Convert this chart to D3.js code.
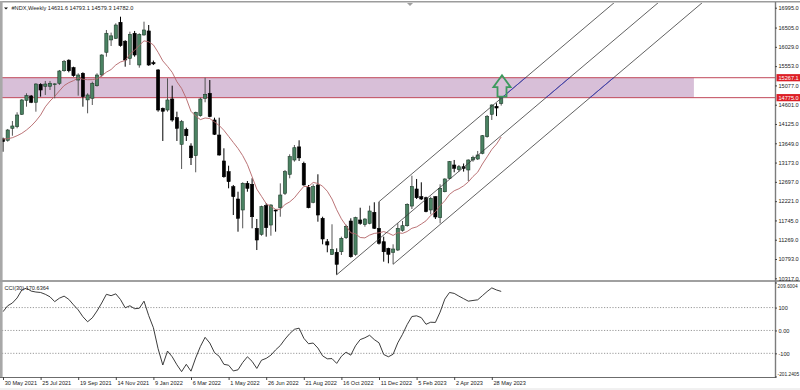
<!DOCTYPE html>
<html>
<head>
<meta charset="utf-8">
<script src="https://cdn.jsdelivr.net/npm/d3@7"></script>
<style>
	body { margin: 0; background: #fff; }
	svg { display: block; font-family: "Liberation Sans", Arial, sans-serif; }
</style>
</head>
<body>
<div id="chart-area"></div>
<script>
// weekly bars, 30 May 2021 .. 11 Jun 2023
var opens = [13760,13723,14019,14059,14365,14710,14816,14661,15105,15056,
	15056,15110,15130,15440,15700,15515,15210,15376,14720,14760,
	15070,15334,15895,16200,16240,16635,16168,15746,16364,15581,
	16322,16421,15640,15458,14513,14471,14742,14281,13624,13994,
	13582,13343,14330,14760,14883,14224,13853,13212,12948,12578,
	12274,12003,12662,12637,11551,11403,12109,11632,12000,12059,
	12415,12884,13236,13560,13155,12560,12193,12620,11798,11220,
	10909,10959,10973,11319,11731,10909,11756,11640,11674,11946,
	11551,11220,11057,10959,11015,11500,11615,12100,12521,12331,
	12306,12003,12331,11813,12454,12785,13113,13000,13071,12990,
	13237,13261,13402,13812,14365,14560,14631.6];
var highs = [13790,14002,14199,14414,14742,14883,14841,15130,15130,15187,
	15187,15130,15458,15705,15720,15539,15376,15401,14883,15170,
	15376,15845,16445,16380,16610,16773,16193,16403,16421,16364,
	16650,16568,15690,15480,14530,15253,15071,14429,14224,14034,
	13649,14429,14774,15268,15210,14281,14281,13525,13096,12620,
	12454,12686,12718,12785,11781,12109,12168,12143,12020,12660,
	12990,13377,13607,13723,13195,12620,12637,12884,11837,11287,
	11650,11057,11344,11640,11798,11837,12059,11800,12109,12193,
	12208,11344,11072,11156,11674,11731,12168,12849,12768,12686,
	12331,12331,12340,12637,12785,13212,13237,13113,13150,13250,
	13343,13459,13853,14347,14611,14636,14793.1];
var lows = [13440,13688,13836,14019,14347,14552,14640,14429,14799,14841,
	14964,14760,15088,15416,15400,15292,14824,14552,14389,14594,
	15046,15292,15786,16050,16223,16033,15539,15581,15786,15515,
	16305,15560,15580,14429,13706,14429,14182,13706,13015,13706,
	13113,12933,14306,14661,14290,13853,13343,12800,12538,11879,
	11467,11551,12454,11551,11015,11368,11344,11368,11467,11837,
	12373,12785,13195,13212,12603,12045,12168,11714,11156,10959,
	10892,10405,10892,11287,10825,10875,11640,11590,11650,11534,
	11150,10727,10687,10663,10990,11467,11590,12027,12274,12249,
	11946,11896,11781,11674,12439,12768,12933,12948,12950,12718,
	13195,13237,13377,13787,14224,14320,14579.3];
var closes = [13690,13977,14076,14347,14718,14824,14661,15112,14964,15112,
	15130,15115,15433,15663,15440,15317,15334,14799,14841,15130,
	15334,15828,16364,16300,16568,16058,15705,16339,15828,16339,
	16445,15581,15610,14471,14440,14718,14224,14019,14182,13836,
	13293,14414,14742,14858,14306,13871,13360,12824,12701,12331,
	11798,12662,12538,11837,11262,12084,11566,12126,11978,12373,
	12948,13318,13540,13290,12620,12059,12578,11879,11287,11139,
	11033,10663,11304,11600,10850,11813,11674,11780,11978,11551,
	11181,10973,10909,11040,11551,11615,12143,12578,12306,12274,
	11961,12291,11830,12538,12768,13195,13032,13071,13030,13237,
	13300,13360,13836,14306,14594,14520,14782.0];

// moving average line
var ma10 = [13755,13762,13787,13836,13895,13977,14076,14199,14347,14548,
	14692,14806,14942,15073,15145,15195,15262,15231,15218,15220,
	15241,15312,15405,15469,15582,15656,15693,15847,15945,16066,
	16177,16153,16077,15894,15682,15548,15400,15168,15003,14753,
	14437,14321,14234,14273,14259,14175,14088,13969,13821,13670,
	13521,13345,13125,12823,12518,12340,12160,12091,12018,12022,
	12137,12203,12303,12449,12584,12582,12683,12658,12589,12466,
	12274,12009,11785,11616,11439,11415,11324,11314,11383,11425,
	11439,11470,11431,11375,11445,11425,11472,11552,11585,11657,
	11735,11867,11959,12109,12230,12388,12477,12527,12599,12695,
	12829,12936,13137,13314,13496,13629,13804];

// CCI(30)
var cci = [82,108,120,142,177,185,172,168,166,158,
	147,126,141,150,136,112,90,60,38,55,
	85,120,158,152,160,135,99,108,95,97,
	128,65,12,-80,-151,-90,-115,-150,-180,-148,
	-178,-120,-70,-30,-55,-97,-113,-148,-152,-177,
	-172,-140,-115,-135,-166,-130,-122,-108,-85,-66,
	-38,-14,5,10,-34,-58,-55,-77,-111,-124,
	-123,-144,-113,-95,-108,-67,-40,-32,-21,-40,
	-54,-105,-115,-104,-54,-17,26,61,64,56,
	27,36,35,80,137,166,162,150,139,128,
	131,134,152,170,186,177,170.6364];

var dateIdx = [0,8,16,24,32,40,48,56,64,72,80,88,96,104];
var dateLabels = ["30 May 2021","25 Jul 2021","19 Sep 2021","14 Nov 2021","9 Jan 2022","6 Mar 2022",
	"1 May 2022","26 Jun 2022","21 Aug 2022","16 Oct 2022","11 Dec 2022","5 Feb 2023","2 Apr 2023","28 May 2023"];
var priceTicks = [16995,16505,16029,15553,15077,14601,14125,13649,13173,12697,12221,11745,11269,10793,10317];
var cciTicks = [209.6004,100,0,-100,-201.2405];
var cciLevels = [100,0,-100];

var zoneTop = 15267.1, zoneBottom = 14775.0, zoneEndBar = 147;
var forkPoints = [[71,10405],[80,12208],[83,10663]];
var arrowBar = 106;

var W = 800, H = 390;
var left = 2, right = 775;
var mainTop = 3, mainBottom = 280, cciTop = 282, cciBottom = 377;
var fs = "5.6px";

var svg = d3.select("#chart-area")
	.append("svg")
		.attr("width", W)
		.attr("height", H);

var x = d3.scaleLinear().domain([0, closes.length - 1]).range([3, 501.2]);
var y = d3.scaleLinear().domain([10317, 16995]).range([278.3, 7.7]);
var yc = d3.scaleLinear().domain([-201.2405, 209.6004]).range([376.5, 282.5]);

var defs = svg.append("defs");
defs.append("clipPath").attr("id", "mainClip")
	.append("rect").attr("x", left).attr("y", mainTop).attr("width", right - left).attr("height", mainBottom - mainTop);
defs.append("clipPath").attr("id", "cciClip")
	.append("rect").attr("x", left).attr("y", cciTop).attr("width", right - left).attr("height", cciBottom - cciTop);
defs.append("clipPath").attr("id", "zoneClip")
	.append("rect").attr("x", left).attr("y", y(zoneTop)).attr("width", x(zoneEndBar) - left).attr("height", y(zoneBottom) - y(zoneTop));

var g = svg.append("g").attr("clip-path", "url(#mainClip)");

// resistance zone
g.append("rect")
	.attr("x", left)
	.attr("y", y(zoneTop))
	.attr("width", x(zoneEndBar) - left)
	.attr("height", y(zoneBottom) - y(zoneTop))
	.attr("fill", "#d8bfd8");
g.selectAll(".zline").data([zoneTop, zoneBottom]).enter()
	.append("line")
		.attr("x1", left).attr("x2", right)
		.attr("y1", (d) => y(d)).attr("y2", (d) => y(d))
		.attr("stroke", "#c0485a")
		.attr("stroke-width", 1);

// candles
var bars = d3.range(closes.length);
g.selectAll(".wick").data(bars).enter()
	.append("line")
		.attr("x1", (i) => x(i)).attr("x2", (i) => x(i))
		.attr("y1", (i) => y(highs[i])).attr("y2", (i) => y(lows[i]))
		.attr("stroke", (i) => closes[i] >= opens[i] ? "#555" : "#000")
		.attr("stroke-width", 1);
g.selectAll(".body").data(bars).enter()
	.append("rect")
		.attr("x", (i) => x(i) - 1.6)
		.attr("y", (i) => y(Math.max(opens[i], closes[i])))
		.attr("width", 3.2)
		.attr("height", (i) => Math.max(0.8, Math.abs(y(opens[i]) - y(closes[i]))))
		.attr("fill", (i) => closes[i] >= opens[i] ? "#4a8262" : "#000")
		.attr("stroke", (i) => closes[i] >= opens[i] ? "#1d3b2a" : "#000")
		.attr("stroke-width", 0.6);

// moving average
g.append("path")
	.datum(ma10)
	.attr("fill", "none")
	.attr("stroke", "#b36468")
	.attr("stroke-width", 0.9)
	.attr("d", d3.line().x((d, i) => x(i)).y((d) => y(d)));

// pitchfork
var p1 = forkPoints[0], p2 = forkPoints[1], p3 = forkPoints[2];
var mid = [(p2[0] + p3[0]) / 2, (p2[1] + p3[1]) / 2];
var slope = (mid[1] - p1[1]) / (mid[0] - p1[0]);
var forkLines = forkPoints.map((p) => [p, [p[0] + 200, p[1] + 200 * slope]]);
g.selectAll(".fork").data(forkLines).enter()
	.append("line")
		.attr("x1", (d) => x(d[0][0])).attr("y1", (d) => y(d[0][1]))
		.attr("x2", (d) => x(d[1][0])).attr("y2", (d) => y(d[1][1]))
		.attr("stroke", "#3a3a3a")
		.attr("stroke-width", 0.8);
svg.append("g").attr("clip-path", "url(#zoneClip)")
	.selectAll(".forkb").data(forkLines).enter()
	.append("line")
		.attr("x1", (d) => x(d[0][0])).attr("y1", (d) => y(d[0][1]))
		.attr("x2", (d) => x(d[1][0])).attr("y2", (d) => y(d[1][1]))
		.attr("stroke", "#3b3bd0")
		.attr("stroke-width", 0.8);

// up arrow above last bar
var ax = x(arrowBar) + 0.8, ay = y(highs[arrowBar]) - 0.3;
svg.append("path")
	.attr("d", "M" + (ax - 4.5) + "," + ay + "V" + (ay - 9.4) + "H" + (ax - 8.6) + "L" + ax + "," + (ay - 21.4) +
		"L" + (ax + 8.6) + "," + (ay - 9.4) + "H" + (ax + 4.5) + "V" + ay + "Z")
	.attr("fill", "none")
	.attr("stroke", "#3d9a5e")
	.attr("stroke-width", 1.8)
	.attr("stroke-linejoin", "miter");

// CCI panel
var gc = svg.append("g").attr("clip-path", "url(#cciClip)");
gc.selectAll(".lvl").data(cciLevels).enter()
	.append("line")
		.attr("x1", left).attr("x2", right)
		.attr("y1", (d) => yc(d)).attr("y2", (d) => yc(d))
		.attr("stroke", "#808080")
		.attr("stroke-width", 0.8)
		.attr("stroke-dasharray", "1.2,1.6");
gc.append("path")
	.datum(cci)
	.attr("fill", "none")
	.attr("stroke", "#262626")
	.attr("stroke-width", 0.9)
	.attr("d", d3.line().x((d, i) => x(i)).y((d) => yc(d)));

// frames
svg.append("line").attr("x1", 0).attr("x2", W).attr("y1", 1.8).attr("y2", 1.8)
	.attr("stroke", "#9c9c9c").attr("stroke-width", 1.6);
svg.append("line").attr("x1", 1.3).attr("x2", 1.3).attr("y1", 1).attr("y2", cciBottom)
	.attr("stroke", "#a8a8a8").attr("stroke-width", 2.6);
svg.append("line").attr("x1", 0).attr("x2", W).attr("y1", 281).attr("y2", 281)
	.attr("stroke", "#a0a0a0").attr("stroke-width", 2);
svg.append("line").attr("x1", right + 0.5).attr("x2", right + 0.5).attr("y1", 2).attr("y2", cciBottom)
	.attr("stroke", "#7c7c7c").attr("stroke-width", 1.4);
svg.append("line").attr("x1", 0).attr("x2", right + 1).attr("y1", cciBottom + 0.5).attr("y2", cciBottom + 0.5)
	.attr("stroke", "#6c6c6c").attr("stroke-width", 1);
svg.append("line").attr("x1", 0).attr("x2", W).attr("y1", 389).attr("y2", 389)
	.attr("stroke", "#e2e2e2").attr("stroke-width", 1);
// chart shift marker
svg.append("path").attr("d", "M407,3L413,3L410,6Z").attr("fill", "#a0a0a0");

// price axis
var rightAxis = d3.axisRight(y).tickValues(priceTicks).tickSize(2).tickFormat((d) => d.toFixed(1));
var ra = svg.append("g")
	.attr("class", "right axis")
	.attr("transform", "translate(" + right + ",0)")
	.call(rightAxis);
ra.select(".domain").remove();
ra.selectAll("line").attr("stroke", "#444");
ra.selectAll("text").attr("x", 3.5).attr("font-size", fs).attr("fill", "#222").style("font-family", "Liberation Sans, Arial, sans-serif");

// zone price tags
var tags = svg.selectAll(".tag").data([zoneTop, zoneBottom]).enter().append("g");
tags.append("rect")
	.attr("x", right + 1.5).attr("y", (d) => y(d) - 3.6)
	.attr("width", W - right).attr("height", 7.2)
	.attr("fill", "#dc1f26");
tags.append("text")
	.attr("x", right + 3.5).attr("y", (d) => y(d))
	.attr("dy", "0.35em")
	.attr("font-size", fs)
	.attr("fill", "#fff")
	.text((d) => d.toFixed(1));

// CCI axis
var cciAxis = d3.axisRight(yc).tickValues(cciTicks).tickSize(2)
	.tickFormat((d) => d === 0 ? "0.00" : (Math.abs(d) === 100 ? String(d) : d.toFixed(4)));
var ca = svg.append("g")
	.attr("class", "cci axis")
	.attr("transform", "translate(" + right + ",0)")
	.call(cciAxis);
ca.select(".domain").remove();
ca.selectAll("line").attr("stroke", "#444");
ca.selectAll("text").attr("x", (d) => Math.abs(d) > 200 ? 2.6 : 3.5)
	.attr("font-size", (d) => Math.abs(d) > 200 ? "4.8px" : fs)
	.attr("fill", "#222").style("font-family", "Liberation Sans, Arial, sans-serif")
	.attr("y", (d) => d > 200 ? 3 : (d < -200 ? -3 : 0));

// date axis
var bottomAxis = d3.axisBottom(x).tickValues(dateIdx).tickSize(3)
	.tickFormat((d, i) => dateLabels[i]);
var ba = svg.append("g")
	.attr("class", "bottom axis")
	.attr("transform", "translate(0," + cciBottom + ")")
	.call(bottomAxis);
ba.select(".domain").remove();
ba.selectAll("line").attr("stroke", "#444");
ba.selectAll("text")
	.attr("text-anchor", "start")
	.attr("x", 1.2)
	.attr("y", 4.4)
	.attr("font-size", fs)
	.attr("fill", "#222")
	.style("font-family", "Liberation Sans, Arial, sans-serif");

// labels
var last = closes.length - 1;
svg.append("path").attr("d", "M4,7.4L8,7.4L6,9.6Z").attr("fill", "#111");
svg.append("text")
	.attr("x", 11.5).attr("y", 10.3)
	.attr("font-size", fs)
	.attr("fill", "#222")
	.text("#NDX,Weekly  " + [opens[last], highs[last], lows[last], closes[last]].map((v) => v.toFixed(1)).join(" "));
svg.append("text")
	.attr("x", 4.5).attr("y", 289.6)
	.attr("font-size", fs)
	.attr("fill", "#222")
	.text("CCI(30) " + cci[last].toFixed(4));
</script>
</body>
</html>
